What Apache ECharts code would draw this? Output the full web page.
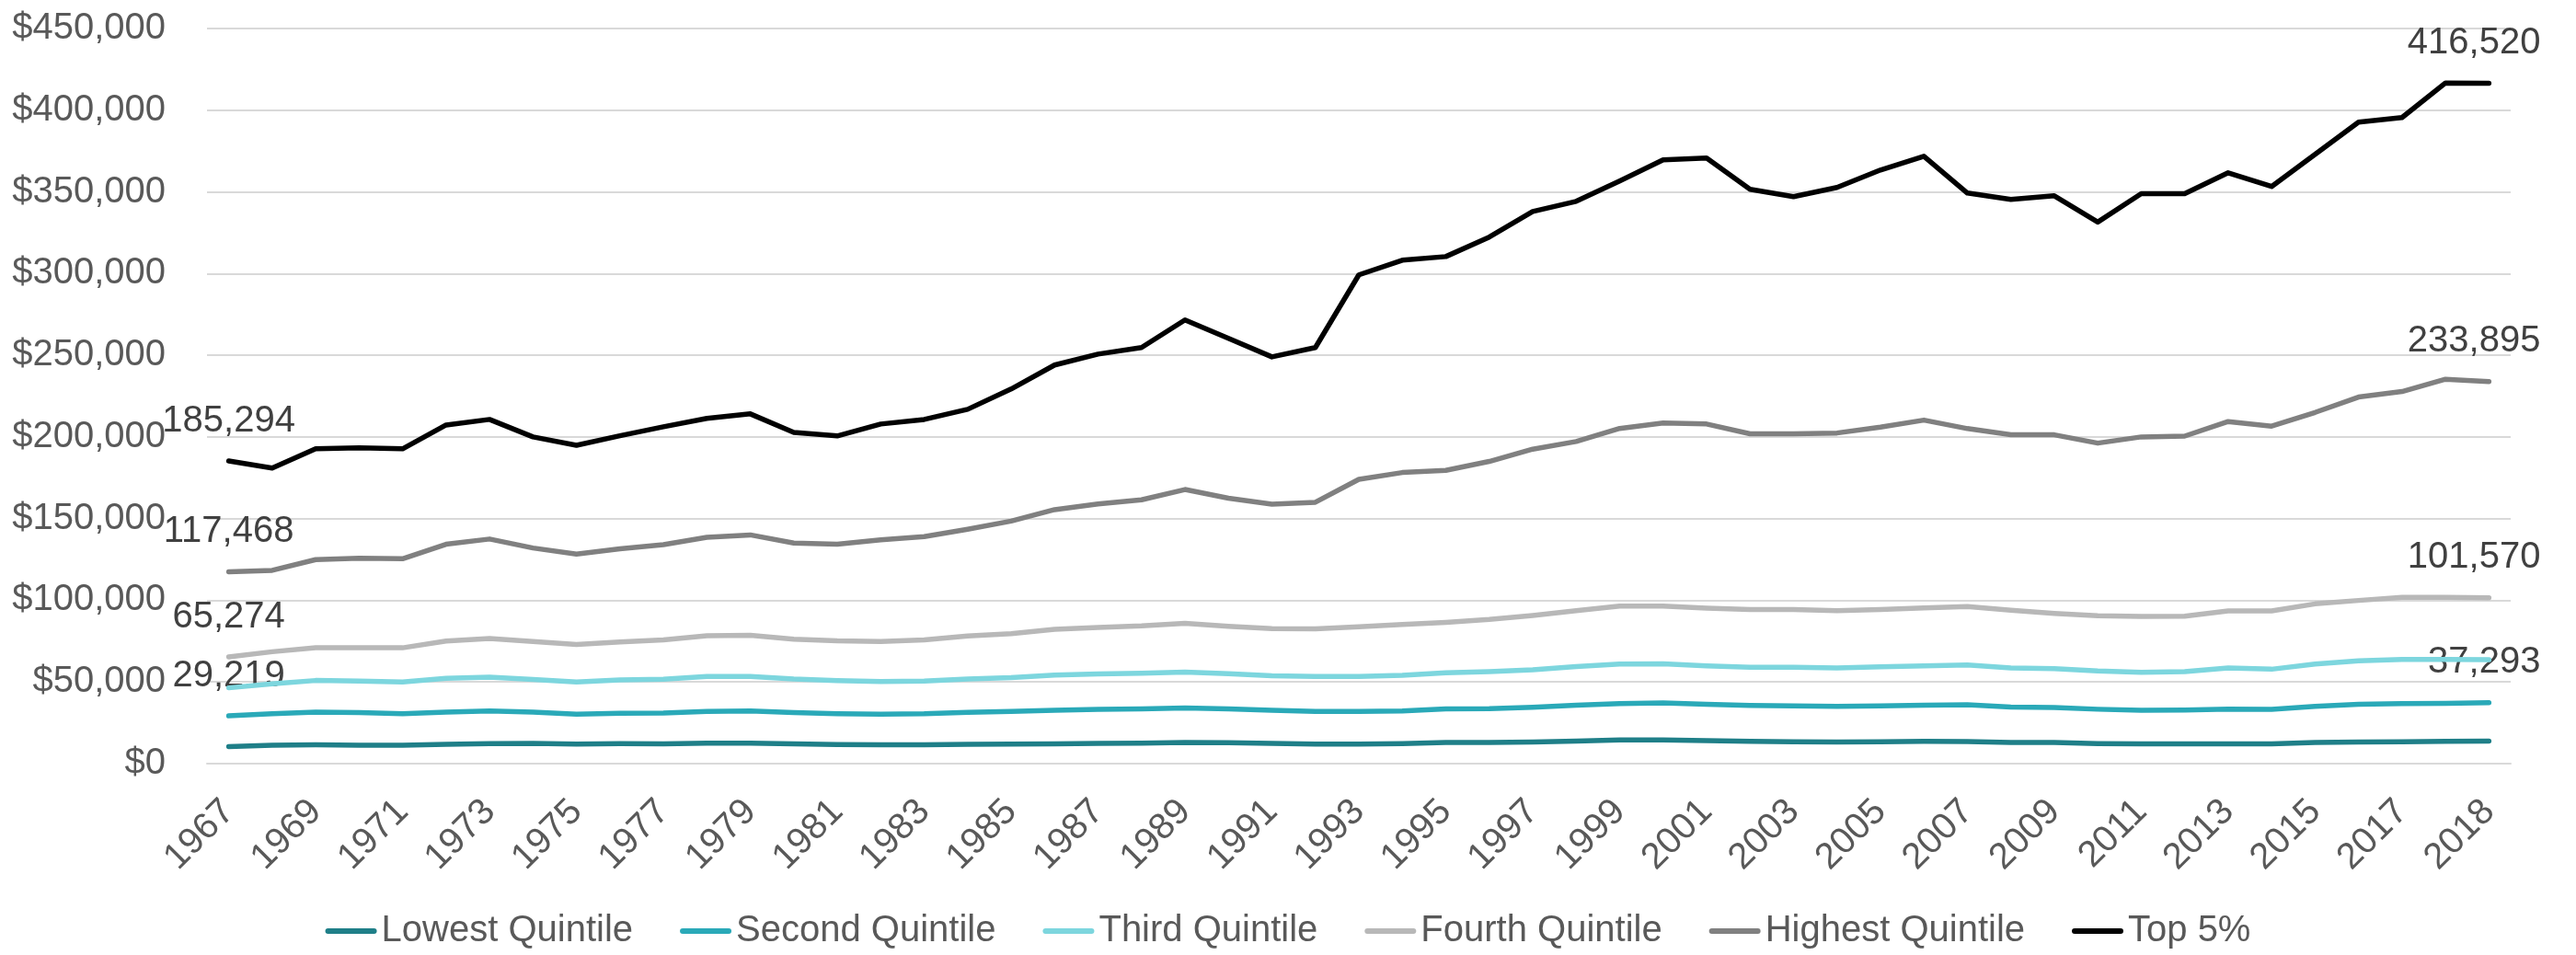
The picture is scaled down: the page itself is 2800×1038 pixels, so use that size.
<!DOCTYPE html>
<html>
<head>
<meta charset="utf-8">
<script src="https://cdn.jsdelivr.net/npm/echarts@6/dist/echarts.min.js"></script>
<style>
  html, body { margin: 0; padding: 0; background: #ffffff; }
  #chart { width: 2800px; height: 1038px; }
</style>
</head>
<body>
<div id="chart"></div>
<script>
// Mean household income received by each fifth and the top 5 percent (2018 dollars)
const years = ['1967','1968','1969','1970','1971','1972','1973','1974','1975','1976',
  '1977','1978','1979','1980','1981','1982','1983','1984','1985','1986',
  '1987','1988','1989','1990','1991','1992','1993','1994','1995','1996',
  '1997','1998','1999','2000','2001','2002','2003','2004','2005','2006',
  '2007','2008','2009','2010','2011','2012','2013','2014','2015','2016',
  '2017','2017','2018'];

const lowest = [10400,11200,11500,11300,11300,11800,12200,12400,11900,12200,
  12100,12500,12500,12100,11700,11500,11500,11800,11900,12100,
  12400,12600,13000,12800,12400,12000,11900,12300,13000,13000,
  13300,13800,14500,14500,14100,13700,13400,13300,13400,13700,
  13500,13000,12900,12300,12100,12100,12100,12100,12900,13300,
  13400,13600,13775];

const second = [29219,30600,31600,31200,30600,31600,32200,31600,30300,30900,
  31000,32000,32300,31300,30600,30300,30500,31400,31900,32700,
  33200,33500,34100,33500,32600,32000,31900,32300,33500,33700,
  34500,35700,36700,37200,36300,35600,35400,35100,35300,35800,
  36000,34700,34400,33300,32700,32800,33300,33200,35100,36300,
  36700,36900,37293];

const third = [46400,48800,50900,50600,50000,52300,53000,51500,50000,51200,
  51700,53300,53400,51800,50800,50300,50500,51800,52700,54200,
  54900,55300,56100,55000,53800,53400,53300,54100,55600,56300,
  57500,59400,60900,61100,59800,59000,59000,58600,59300,59800,
  60400,58600,58200,56700,55900,56300,58600,57800,61000,62900,
  63800,63800,63572];

const fourth = [65274,68500,71000,71000,70900,75000,76600,74700,72900,74500,
  75800,78300,78600,76200,75200,74800,75800,78100,79500,82200,
  83400,84300,85900,84000,82600,82500,83800,85200,86500,88300,
  90700,93600,96400,96400,95200,94300,94400,93600,94300,95300,
  96200,93900,92000,90500,90100,90300,93500,93500,97800,99900,
  101800,101800,101570];

const highest = [117468,118300,124900,125800,125400,134300,137500,132000,128300,131500,
  134000,138500,140000,135000,134300,137000,139000,143500,148500,155500,
  159000,161500,167800,162500,158800,160000,174000,178200,179500,185000,
  192500,197200,205200,208500,207900,201900,201900,202400,206000,210300,
  205100,201300,201300,196200,200000,200500,209400,206600,215000,224400,
  227800,235300,233895];

const top5 = [185294,180900,192700,193300,192700,207300,210700,200000,194900,200700,
  206200,211300,214100,202800,200600,207900,210700,216900,229300,244000,
  250700,254700,271600,260300,249000,254700,299200,308200,310400,322300,
  338000,344200,356600,369600,370700,351600,347100,352700,363400,371800,
  349300,345400,347600,331500,348900,348900,361700,353300,373000,392700,
  395500,416700,416520];

const seriesNames = ['Lowest Quintile', 'Second Quintile', 'Third Quintile',
  'Fourth Quintile', 'Highest Quintile', 'Top 5%'];
const seriesValues = [lowest, second, third, fourth, highest, top5];
const seriesColors = ['#1f7f88', '#2aa9b8', '#7dd6de', '#b8b8b8', '#808080', '#000000'];
// Series whose first and last values are written on the chart
const labelled = [false, true, false, true, true, true];

const FONT = "'Liberation Sans', Arial, sans-serif";
const FS = 40;
const fmt = v => v.toLocaleString('en-US');

function endLabel(isLast) {
  return {
    show: true,
    position: 'top',
    distance: 23,
    fontSize: FS,
    fontFamily: FONT,
    color: '#404040',
    formatter: p => fmt(p.value),
    align: isLast ? 'right' : 'center',
    offset: isLast ? [56, 0] : [0, 0]
  };
}

function buildData(values, withLabels) {
  return values.map((v, i) => {
    if (withLabels && (i === 0 || i === values.length - 1)) {
      return { value: v, label: endLabel(i === values.length - 1) };
    }
    return v;
  });
}

const series = seriesNames.map((name, k) => ({
  name: name,
  type: 'line',
  data: buildData(seriesValues[k], labelled[k]),
  symbol: 'circle',
  symbolSize: 1,
  showSymbol: true,
  showAllSymbol: true,
  smooth: false,
  z: 2 + k,
  color: seriesColors[k],
  itemStyle: { color: seriesColors[k] },
  lineStyle: { width: 5.5, color: seriesColors[k], cap: 'round', join: 'round' },
  label: { show: false },
  emphasis: { disabled: true },
  animation: false
}));

const chart = echarts.init(document.getElementById('chart'), null, { renderer: 'canvas' });
chart.setOption({
  animation: false,
  backgroundColor: '#ffffff',
  textStyle: { fontFamily: FONT },
  grid: { left: 225, right: 71, top: 31, bottom: 208, containLabel: false },
  legend: {
    data: seriesNames,
    top: 987,
    left: 'center',
    itemGap: 51,
    itemWidth: 56,
    itemHeight: 6,
    icon: 'path://M3,0 L53,0 A3,3 0 0 1 53,6 L3,6 A3,3 0 0 1 3,0 Z',
    textStyle: { fontSize: FS, color: '#595959', fontFamily: FONT },
    selectedMode: false
  },
  xAxis: {
    type: 'category',
    data: years,
    boundaryGap: true,
    axisLine: { show: true, lineStyle: { color: '#d9d9d9', width: 2 } },
    axisTick: { show: false },
    axisLabel: {
      interval: 1,
      rotate: 45,
      margin: 46,
      fontSize: FS,
      color: '#595959',
      fontFamily: FONT
    },
    splitLine: { show: false }
  },
  yAxis: {
    type: 'value',
    min: 0,
    max: 450000,
    interval: 50000,
    axisLine: { show: false },
    axisTick: { show: false },
    axisLabel: {
      margin: 45,
      fontSize: FS,
      color: '#595959',
      fontFamily: FONT,
      formatter: v => '$' + fmt(v)
    },
    splitLine: { show: true, lineStyle: { color: '#d9d9d9', width: 2 } }
  },
  series: series
});
</script>
</body>
</html>
